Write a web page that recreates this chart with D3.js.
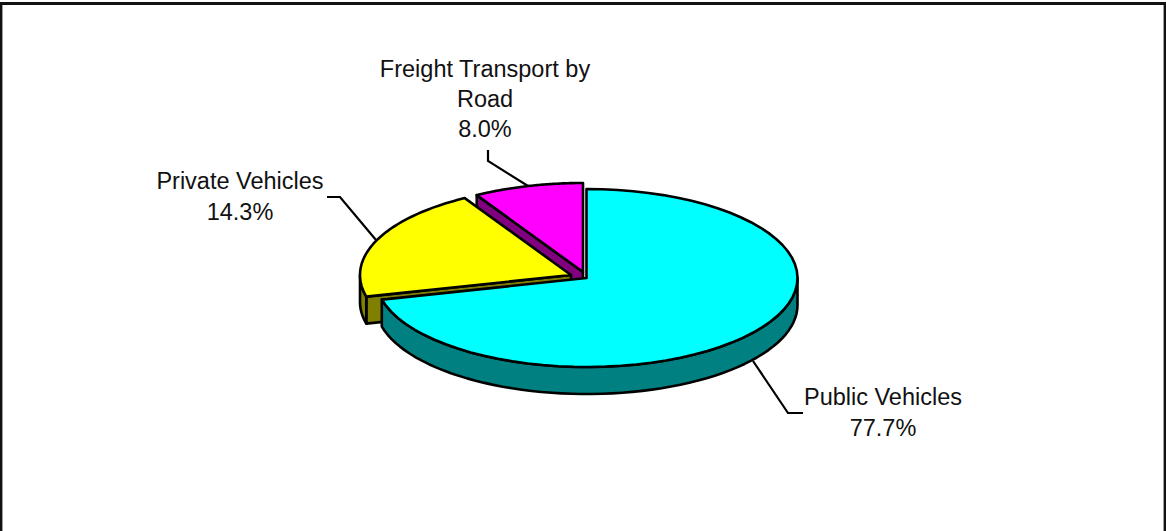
<!DOCTYPE html>
<html><head><meta charset="utf-8">
<script src="https://cdn.jsdelivr.net/npm/d3@7"></script>
<style>html,body{margin:0;padding:0;background:#fff}svg{display:block}text{font-family:"Liberation Sans",Arial,sans-serif;font-size:23.5px;fill:#111}</style>
</head><body><svg id="c" width="1166" height="531"></svg>
<script>
// Printed labels
const categories = ["Public Vehicles", "Private Vehicles", "Freight Transport by Road"];
const labelLines = [["Public Vehicles"], ["Private Vehicles"], ["Freight Transport by", "Road"]];
const values = [77.7, 14.3, 8.0];
// Slice shares as drawn in the picture (the 3D projection does not follow the printed percentages)
const drawnShares = [71.1, 20.5, 8.4];
const topColors = ["#00FFFF", "#FFFF00", "#FF00FF"];
const sideColors = ["#008080", "#808000", "#800080"];
const centers = [[586.5, 278], [571, 275], [583, 272]];
const leaders = [
  [[753, 361], [788, 413], [803, 413]],
  [[376, 240], [340, 197], [327, 197]],
  [[528, 186], [488, 161], [488, 150]]
];
const labelAnchors = [[883, 405], [240, 189], [485, 77]];
const lineGaps = [31, 31, 30];

const rx = 211, ry = 89, depth = 27;
const svg = d3.select("#c");

// frame
svg.append("path").attr("d", "M1,531V3.5H1165V531").attr("fill", "none").attr("stroke", "#111").attr("stroke-width", 2.8);

const arcs = d3.pie().sort(null).value(d => d)(drawnShares);
const scaleX = d3.scaleLinear().domain([-1, 1]).range([-rx, rx]);
const scaleY = d3.scaleLinear().domain([-1, 1]).range([-ry, ry]);
const pt = (i, a, dz = 0) => [centers[i][0] + scaleX(Math.sin(a)), centers[i][1] - scaleY(Math.cos(a)) + dz];
const line = d3.line();
const sample = (a0, a1) => d3.range(0, 61).map(k => a0 + (a1 - a0) * k / 60);
const styled = s => s.attr("stroke", "#000").attr("stroke-width", 2.6).attr("stroke-linejoin", "round");

// painted back to front: magenta, yellow, cyan
[2, 1, 0].forEach(i => {
  const { startAngle: a0, endAngle: a1 } = arcs[i];
  const g = svg.append("g");
  const c = centers[i];
  // forward-facing cut face of the two detached slices
  if (i > 0) {
    const p = pt(i, a0);
    styled(g.append("path")).attr("fill", sideColors[i])
      .attr("d", line([c, p, [p[0], p[1] + depth], [c[0], c[1] + depth]]) + "Z");
  }
  // outer wall: lower half of the ellipse only
  const lo = Math.max(a0, Math.PI / 2), hi = Math.min(a1, 3 * Math.PI / 2);
  if (hi > lo) {
    const top = sample(lo, hi).map(a => pt(i, a));
    const bot = sample(hi, lo).map(a => pt(i, a, depth));
    styled(g.append("path")).attr("fill", sideColors[i]).attr("d", line(top.concat(bot)) + "Z");
  }
  // top face
  const rim = sample(a0, a1).map(a => pt(i, a));
  styled(g.append("path")).attr("fill", topColors[i]).attr("d", line([c].concat(rim)) + "Z");
});

// leaders
leaders.forEach(l => svg.append("path").attr("d", line(l)).attr("fill", "none").attr("stroke", "#000").attr("stroke-width", 2.2));

// labels
labelLines.forEach((ls, i) => {
  const t = svg.append("text").attr("text-anchor", "middle");
  ls.concat([values[i].toFixed(1) + "%"]).forEach((s, k) => {
    t.append("tspan").attr("x", labelAnchors[i][0]).attr("y", labelAnchors[i][1] + k * lineGaps[i]).text(s);
  });
});
</script></body></html>
